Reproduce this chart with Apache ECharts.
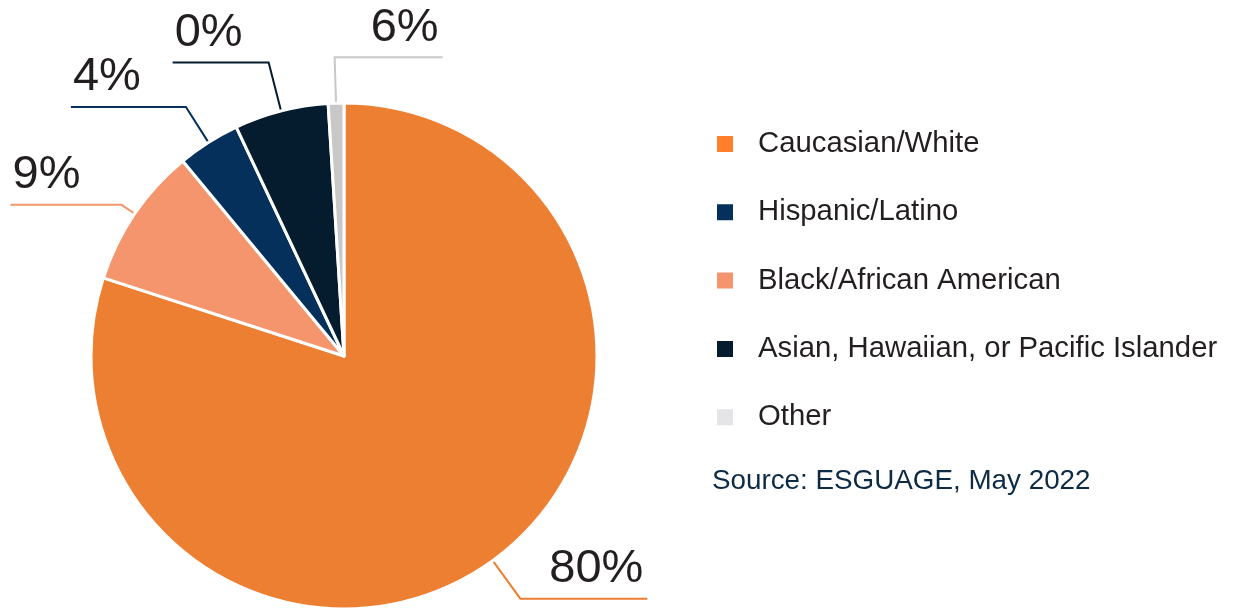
<!DOCTYPE html>
<html>
<head>
<meta charset="utf-8">
<script src="https://cdn.jsdelivr.net/npm/echarts@6/dist/echarts.min.js"></script>
<style>
    html, body { margin: 0; padding: 0; background: #fff; }
    #chart { width: 1240px; height: 609px; }
</style>
</head>
<body>
<div id="chart"></div>
<script>
// 数据
const categories = ['Caucasian/White', 'Black/African American', 'Hispanic/Latino', 'Asian, Hawaiian, or Pacific Islander', 'Other'];
const values = [80, 9, 4, 6, 1];
// labels as printed on the original (they don't all match the slices)
const labelTexts = ['80%', '9%', '4%', '0%', '6%'];
const legendOrder = ['Caucasian/White', 'Hispanic/Latino', 'Black/African American', 'Asian, Hawaiian, or Pacific Islander', 'Other'];

const sliceColors = ['#ED7F33', '#F4956E', '#06305C', '#041C2E', '#C8C8C8'];
const legendColors = {
    'Caucasian/White': '#FF7F2A',
    'Hispanic/Latino': '#06305C',
    'Black/African American': '#F4956E',
    'Asian, Hawaiian, or Pacific Islander': '#041C2E',
    'Other': '#E5E5E7'
};
// [length, length2] of each label line
const lineLens = [[47, 127], [16, 111], [42, 115], [50, 96], [46, 108]];
const flipRight = [false, false, false, false, true]; // 6% label sits to the right

const myChart = echarts.init(document.getElementById('chart'));

const option = {
    animation: false,
    title: {
        text: 'Source: ESGUAGE, May 2022',
        left: 707,
        top: 462,
        textStyle: {
            color: '#0D2B45',
            fontFamily: 'Liberation Sans',
            fontSize: 27.8,
            fontWeight: 'normal'
        }
    },
    legend: {
        orient: 'vertical',
        left: 715,
        top: 129,
        padding: 0,
        icon: 'rect',
        itemWidth: 18,
        itemHeight: 18,
        itemGap: 38.3,
        selectedMode: false,
        data: legendOrder.map(n => ({ name: n, itemStyle: { color: legendColors[n] } })),
        textStyle: {
            color: '#231F20',
            fontFamily: 'Liberation Sans',
            fontSize: 29.3,
            lineHeight: 30,
            padding: [0, 0, 0, 19]
        }
    },
    series: [
        {
            type: 'pie',
            center: [344, 356],
            radius: 253,
            startAngle: 90,
            clockwise: true,
            avoidLabelOverlap: false,
            itemStyle: {
                borderColor: '#fff',
                borderWidth: 3
            },
            label: {
                show: true,
                position: 'outside',
                formatter: p => labelTexts[p.dataIndex],
                color: '#231F20',
                fontFamily: 'Liberation Sans',
                fontSize: 47
            },
            labelLine: {
                show: true,
                lineStyle: { width: 2 }
            },
            labelLayout: function (p) {
                const pts = p.labelLinePoints;
                if (!pts) return {};
                const pp = pts.map(a => a.slice());
                if (flipRight[p.dataIndex]) {
                    pp[2][0] = pp[1][0] + (pp[1][0] - pp[2][0]);
                }
                const toRight = pp[2][0] > pp[1][0];
                return {
                    x: pp[2][0] + (toRight ? -4 : 2),
                    y: pp[2][1] - 6,
                    align: toRight ? 'right' : 'left',
                    verticalAlign: 'bottom',
                    labelLinePoints: pp
                };
            },
            data: categories.map((name, i) => ({
                name: name,
                value: values[i],
                itemStyle: { color: sliceColors[i] },
                labelLine: {
                    length: lineLens[i][0],
                    length2: lineLens[i][1],
                    lineStyle: { color: sliceColors[i] }
                }
            }))
        }
    ]
};

myChart.setOption(option);
window.addEventListener('resize', () => {
    myChart.resize();
});
</script>
</body>
</html>
